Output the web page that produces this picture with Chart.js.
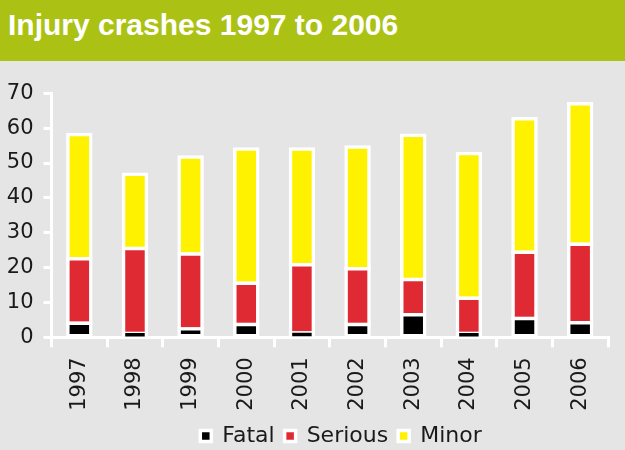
<!DOCTYPE html>
<html>
<head>
<meta charset="utf-8">
<title>Injury crashes 1997 to 2006</title>
<script src="https://cdn.jsdelivr.net/npm/chart.js@4.4.1/dist/chart.umd.min.js"></script>
<style>
  html, body {
    margin: 0;
    padding: 0;
    width: 625px;
    height: 450px;
    overflow: hidden;
    background: #e5e5e5;
  }
  #header {
    position: absolute;
    left: 0;
    top: 0;
    width: 625px;
    height: 61px;
    background: #abc215;
  }
  #header h1 {
    position: absolute;
    left: 8px;
    top: 10px;
    margin: 0;
    font-family: "Liberation Sans", Arial, sans-serif;
    font-weight: bold;
    font-size: 30px;
    line-height: 30px;
    color: #ffffff;
    white-space: nowrap;
  }
  #chart-wrap {
    position: absolute;
    left: 0;
    top: 61px;
    width: 625px;
    height: 389px;
  }
</style>
</head>
<body>
<div id="header"><h1>Injury crashes 1997 to 2006</h1></div>
<div id="chart-wrap"><canvas id="crashChart" width="625" height="389"></canvas></div>

<script>
// values
const years = ["1997", "1998", "1999", "2000", "2001", "2002", "2003", "2004", "2005", "2006"];
const fatal = [4, 1.1, 2.4, 3.7, 1.2, 3.7, 6.5, 1.1, 5.4, 4.2];
const serious = [18.5, 24.4, 21.5, 11.8, 19.6, 16, 10.1, 10.1, 19, 22.5];
const minor = [35.7, 21.3, 27.8, 38.5, 33.2, 34.9, 41.4, 41.5, 38.3, 40.3];
const yTicks = [0, 10, 20, 30, 40, 50, 60, 70];

const tickFont = { family: "'DejaVu Sans', Verdana, sans-serif", size: 21 };
const textColor = "#1a1a1a";

// white outlines, centred on the segment edges like the original
function barSet(label, data, color) {
  return {
    label: label,
    data: data,
    backgroundColor: color,
    borderColor: "#ffffff",
    borderWidth: 3.5,
    borderSkipped: false,
    inflateAmount: 1.75,
    barThickness: 23,
  };
}

// let the year labels run down to the bottom and put the legend row
// where it is in the original (a bit right of centre, under the labels)
const legendPlace = {
  id: "legendPlace",
  afterLayout(chart) {
    const x = chart.scales.x;
    x.bottom = chart.height;
    x.height = x.bottom - x.top;

    const lg = chart.legend;
    const h = lg.height;
    lg.left = 341 - 300;
    lg.right = 341 + 300;
    lg.width = 600;
    lg.top = 354;
    lg.bottom = lg.top + h;
  },
};

const ctx = document.getElementById("crashChart");

new Chart(ctx, {
  type: "bar",
  data: {
    labels: years,
    datasets: [
      barSet("Fatal", fatal, "#000000"),
      barSet("Serious", serious, "#e02a33"),
      barSet("Minor", minor, "#fff200"),
    ],
  },
  options: {
    responsive: false,
    animation: false,
    devicePixelRatio: 1,
    layout: {
      padding: { top: 32.3, left: 0, right: 17, bottom: 0 },
    },
    plugins: {
      title: { display: false },
      tooltip: { enabled: false },
      legend: {
        position: "bottom",
        labels: {
          color: textColor,
          font: { family: "'DejaVu Sans', Verdana, sans-serif", size: 22 },
          boxWidth: 11,
          boxHeight: 11,
          padding: 10,
        },
      },
    },
    scales: {
      x: {
        stacked: true,
        afterFit: (scale) => {
          scale.height = 70.7;
        },
        grid: {
          display: true,
          offset: true,
          drawOnChartArea: false,
          color: "#ffffff",
          lineWidth: 3,
          tickLength: 10,
        },
        border: { color: "#ffffff", width: 3 },
        ticks: {
          color: textColor,
          font: tickFont,
          minRotation: 90,
          maxRotation: 90,
          padding: 10,
        },
      },
      y: {
        stacked: true,
        min: 0,
        max: 70,
        afterFit: (scale) => {
          scale.width = 51.5;
        },
        afterBuildTicks: (scale) => {
          scale.ticks = yTicks.map((v) => ({ value: v }));
        },
        grid: {
          display: true,
          drawOnChartArea: false,
          color: "#ffffff",
          lineWidth: 3,
          tickLength: 8,
        },
        border: { color: "#ffffff", width: 3 },
        ticks: {
          color: textColor,
          font: tickFont,
          padding: 10,
        },
      },
    },
  },
  plugins: [legendPlace],
});
</script>
</body>
</html>
